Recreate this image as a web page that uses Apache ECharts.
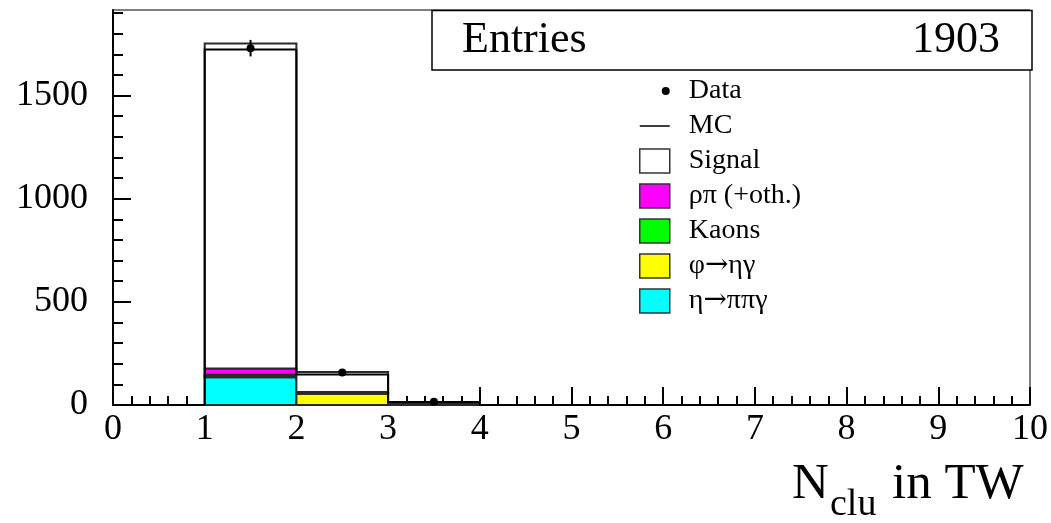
<!DOCTYPE html>
<html>
<head>
<meta charset="utf-8">
<script src="https://cdn.jsdelivr.net/npm/echarts@6/dist/echarts.min.js"></script>
<style>
  html, body { margin: 0; padding: 0; background: #fff; }
  #chart { width: 1051px; height: 523px; }
</style>
</head>
<body>
<div id="chart"></div>
<script>
// ---- data ----
const binLow = [0, 1, 2, 3, 4, 5, 6, 7, 8, 9];
const binWidth = 1;
const etaPiPiGamma = [0, 135, 0, 2, 0, 0, 0, 0, 0, 0];
const phiEtaGamma  = [0, 6, 55, 4, 0, 0, 0, 0, 0, 0];
const kaons        = [0, 6, 3, 2, 0, 0, 0, 0, 0, 0];
const rhoPi        = [0, 30, 5, 1, 0, 0, 0, 0, 0, 0];
const signal       = [0, 1575, 97, 6, 0, 0, 0, 0, 0, 0];
const mcTotal      = [0, 1723, 148, 14, 0, 0, 0, 0, 0, 0];
const dataCounts   = [0, 1730, 157, 16, 0, 0, 0, 0, 0, 0];
const dataErrors   = [0, 40, 13, 4, 0, 0, 0, 0, 0, 0];
const xTicks = [0, 1, 2, 3, 4, 5, 6, 7, 8, 9, 10];
const yMajorTicks = [0, 500, 1000, 1500];
const yMinorTicks = [100, 200, 300, 400, 600, 700, 800, 900, 1100, 1200, 1300, 1400, 1600, 1700, 1800, 1900];
const entriesLabel = 'Entries';
const entriesValue = '1903';

const stackNames  = ['η→ππγ', 'φ→ηγ', 'Kaons', 'ρπ (+oth.)', 'Signal'];
const stackValues = [etaPiPiGamma, phiEtaGamma, kaons, rhoPi, signal];
const stackColors = ['#00ffff', '#ffff00', '#00ff00', '#ff00ff', '#ffffff'];

const FONT = 'Liberation Serif';
const EDGE = '#2a2a2a';

// cumulative stack items [xLow, xHigh, yLow, yHigh]
const cum = binLow.map(() => 0);
const stackSeries = stackValues.map((vals, k) => {
  const items = [];
  vals.forEach((v, i) => {
    if (v > 0) items.push([binLow[i], binLow[i] + binWidth, cum[i], cum[i] + v]);
    cum[i] += v;
  });
  return {
    type: 'custom',
    name: stackNames[k],
    z: 2 + k,
    itemStyle: { color: stackColors[k] },
    encode: { x: [0, 1], y: [2, 3] },
    data: items,
    renderItem: function (params, api) {
      const p0 = api.coord([api.value(0), api.value(2)]);
      const p1 = api.coord([api.value(1), api.value(3)]);
      return {
        type: 'rect',
        shape: { x: p0[0], y: p1[1], width: p1[0] - p0[0], height: p0[1] - p1[1] },
        style: { fill: stackColors[k], stroke: EDGE, lineWidth: 2 }
      };
    }
  };
});

const mcItems = binLow.map((x, i) => [x, x + binWidth, mcTotal[i], i > 0 ? mcTotal[i - 1] : 0]);
const dataItems = [];
binLow.forEach((x, i) => {
  if (dataCounts[i] > 0) dataItems.push([x + binWidth / 2, dataCounts[i], dataErrors[i]]);
});

const chart = echarts.init(document.getElementById('chart'));
chart.setOption({
  animation: false,
  backgroundColor: '#fff',
  grid: { left: 113, right: 19, top: 10, bottom: 118, show: true, borderColor: '#000', borderWidth: 1, backgroundColor: 'transparent' },
  xAxis: {
    type: 'value', min: 0, max: 10, interval: 1,
    axisLine: { show: true, onZero: false, lineStyle: { color: '#000', width: 2 } },
    axisTick: { show: true, inside: true, length: 18, customValues: xTicks, lineStyle: { color: '#000', width: 2 } },
    minorTick: { show: true, splitNumber: 5, length: 9, lineStyle: { color: '#000', width: 2 } },
    axisLabel: { customValues: xTicks, margin: 7, color: '#000', fontFamily: FONT, fontSize: 36, formatter: v => String(v) },
    splitLine: { show: false }
  },
  yAxis: [{
    type: 'value', min: 0, max: 1915,
    axisLine: { show: true, lineStyle: { color: '#000', width: 2 } },
    axisTick: { show: true, inside: true, length: 18, customValues: yMajorTicks, lineStyle: { color: '#000', width: 2 } },
    axisLabel: { customValues: yMajorTicks, margin: 25, color: '#000', fontFamily: FONT, fontSize: 36, formatter: v => String(v) },
    splitLine: { show: false }
  }, {
    type: 'value', min: 0, max: 1915, position: 'left',
    axisLine: { show: false },
    axisTick: { show: true, inside: true, length: 10, customValues: yMinorTicks, lineStyle: { color: '#000', width: 2 } },
    axisLabel: { show: false },
    splitLine: { show: false }
  }],
  legend: {
    orient: 'vertical', left: 634, top: 72,
    itemWidth: 30, itemHeight: 24, itemGap: 7,
    selectedMode: false,
    formatter: function (name) {
      return name.split('→').map(s => '{t|' + s + '}').join('{a|→}');
    },
    textStyle: {
      color: '#000', fontFamily: FONT, fontSize: 28, padding: [0, 0, 0, 14],
      rich: {
        t: { color: '#000', fontFamily: FONT, fontSize: 28 },
        a: { color: '#000', fontFamily: 'DejaVu Serif', fontSize: 28 }
      }
    },
    data: [
      { name: 'Data', icon: 'path://M0,0 L0.01,0 M22,12 A4,4 0 1,0 30,12 A4,4 0 1,0 22,12 Z M0,24 L0.01,24', itemStyle: { color: '#000' } },
      { name: 'MC', icon: 'path://M0,0 L0.01,0 M0,11.3 L30,11.3 L30,12.7 L0,12.7 Z M0,24 L0.01,24', itemStyle: { color: '#000' } },
      { name: 'Signal', icon: 'rect', itemStyle: { color: '#fff', borderColor: '#333', borderWidth: 1.5 } },
      { name: 'ρπ (+oth.)', icon: 'rect', itemStyle: { color: '#ff00ff', borderColor: '#333', borderWidth: 1.5 } },
      { name: 'Kaons', icon: 'rect', itemStyle: { color: '#00ff00', borderColor: '#333', borderWidth: 1.5 } },
      { name: 'φ→ηγ', icon: 'rect', itemStyle: { color: '#ffff00', borderColor: '#333', borderWidth: 1.5 } },
      { name: 'η→ππγ', icon: 'rect', itemStyle: { color: '#00ffff', borderColor: '#333', borderWidth: 1.5 } }
    ]
  },
  graphic: [
    { type: 'rect', z: 100, shape: { x: 432, y: 10.5, width: 600, height: 59.5 }, style: { fill: '#fff', stroke: '#000', lineWidth: 1.5 } },
    { type: 'text', z: 101, x: 462, y: 40, style: { text: entriesLabel, fill: '#000', font: '44px "Liberation Serif"', verticalAlign: 'middle', align: 'left' } },
    { type: 'text', z: 101, x: 1000, y: 40, style: { text: entriesValue, fill: '#000', font: '44px "Liberation Serif"', verticalAlign: 'middle', align: 'right' } },
    { type: 'text', z: 101, x: 792, y: 485, style: { text: 'N', fill: '#000', font: '51px "Liberation Serif"', verticalAlign: 'middle', align: 'left' } },
    { type: 'text', z: 101, x: 830, y: 505, style: { text: 'clu', fill: '#000', font: '38px "Liberation Serif"', verticalAlign: 'middle', align: 'left' } },
    { type: 'text', z: 101, x: 892, y: 485, style: { text: 'in TW', fill: '#000', font: '51px "Liberation Serif"', verticalAlign: 'middle', align: 'left' } }
  ],
  series: stackSeries.concat([
    {
      type: 'custom', name: 'MC', z: 20,
      itemStyle: { color: '#000' },
      encode: { x: [0, 1], y: [2, 3] },
      data: mcItems,
      renderItem: function (params, api) {
        const a = api.coord([api.value(0), api.value(2)]);
        const b = api.coord([api.value(1), api.value(2)]);
        const c = api.coord([api.value(0), api.value(3)]);
        return {
          type: 'polyline',
          shape: { points: [c, a, b] },
          style: { stroke: '#000', lineWidth: 2, fill: null }
        };
      }
    },
    {
      type: 'custom', name: 'Data', z: 30,
      itemStyle: { color: '#000' },
      encode: { x: 0, y: 1 },
      data: dataItems,
      renderItem: function (params, api) {
        const x = api.value(0), y = api.value(1), e = api.value(2);
        const p = api.coord([x, y]);
        const lo = api.coord([x, y - e]);
        const hi = api.coord([x, y + e]);
        return {
          type: 'group',
          children: [
            { type: 'line', shape: { x1: lo[0], y1: lo[1], x2: hi[0], y2: hi[1] }, style: { stroke: '#000', lineWidth: 2 } },
            { type: 'circle', shape: { cx: p[0], cy: p[1], r: 4 }, style: { fill: '#000' } }
          ]
        };
      }
    }
  ])
});
</script>
</body>
</html>
